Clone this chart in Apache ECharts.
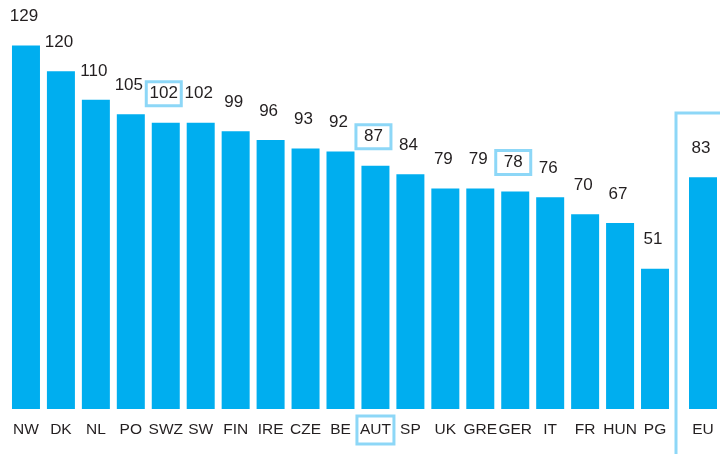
<!DOCTYPE html>
<html>
<head>
<meta charset="utf-8">
<script src="https://cdn.jsdelivr.net/npm/echarts@6/dist/echarts.min.js"></script>
<style>
  html, body { margin: 0; padding: 0; background: #fff; }
  #main { width: 720px; height: 454px; }
</style>
</head>
<body>
<div id="main"></div>
<script>
var categories = ['NW', 'DK', 'NL', 'PO', 'SWZ', 'SW', 'FIN', 'IRE', 'CZE', 'BE', 'AUT', 'SP', 'UK', 'GRE', 'GER', 'IT', 'FR', 'HUN', 'PG']
var values = [129, 120, 110, 105, 102, 102, 99, 96, 93, 92, 87, 84, 79, 79, 78, 76, 70, 67, 51]
var euCategories = ['EU']
var euValues = [83]
// countries whose value / name is framed
var boxedValues = ['SWZ', 'AUT', 'GER']
var boxedNames = ['AUT']

var barColor = '#00aeef'
var frameColor = '#8dd7f7'
var textColor = '#231f20'
var font = 'Liberation Sans, Arial, sans-serif'

var valueLabel = {
  show: true,
  position: 'top',
  distance: 29,
  verticalAlign: 'middle',
  color: textColor,
  fontFamily: font,
  fontSize: 17,
  offset: [-2, 0]
}

var boxedLabel = {
  width: 31,
  height: 20,
  lineHeight: 20,
  align: 'center',
  padding: [2, 2],
  borderColor: frameColor,
  borderWidth: 3
}

var countryData = values.map(function(v, i) {
  var item = { value: v }
  if (boxedValues.indexOf(categories[i]) >= 0) {
    item.label = boxedLabel
  }
  return item
})

var axisLabelStyle = {
  color: textColor,
  fontFamily: font,
  fontSize: 15.5,
  margin: 21,
  verticalAlign: 'middle',
  interval: 0,
  formatter: function(name) {
    return boxedNames.indexOf(name) >= 0 ? '{box|' + name + '}' : name
  },
  rich: {
    box: {
      color: textColor,
      fontFamily: font,
      fontSize: 15.5,
      width: 33,
      height: 24,
      lineHeight: 24,
      align: 'center',
      padding: [2, 2],
      borderColor: frameColor,
      borderWidth: 3
    }
  }
}

var myChart = echarts.init(document.getElementById('main'))
var option = {
  animation: false,
  grid: [
    { left: 8.5, width: 664, top: 14, bottom: 45 },
    { left: 686, width: 36, top: 14, bottom: 45 }
  ],
  xAxis: [
    {
      type: 'category',
      gridIndex: 0,
      data: categories,
      axisLine: { show: false },
      axisTick: { show: false },
      axisLabel: axisLabelStyle
    },
    {
      type: 'category',
      gridIndex: 1,
      data: euCategories,
      axisLine: { show: false },
      axisTick: { show: false },
      axisLabel: axisLabelStyle
    }
  ],
  yAxis: [
    { type: 'value', gridIndex: 0, min: 2, max: 140, show: false },
    { type: 'value', gridIndex: 1, min: 2, max: 140, show: false }
  ],
  graphic: [
    {
      type: 'rect',
      silent: true,
      shape: { x: 676, y: 113, width: 80, height: 380 },
      style: { fill: 'none', stroke: frameColor, lineWidth: 3 }
    }
  ],
  series: [
    {
      type: 'bar',
      xAxisIndex: 0,
      yAxisIndex: 0,
      barWidth: 28,
      itemStyle: { color: barColor },
      label: valueLabel,
      data: countryData
    },
    {
      type: 'bar',
      xAxisIndex: 1,
      yAxisIndex: 1,
      barWidth: 28,
      itemStyle: { color: barColor },
      label: valueLabel,
      data: euValues
    }
  ]
}
myChart.setOption(option)
</script>
</body>
</html>
